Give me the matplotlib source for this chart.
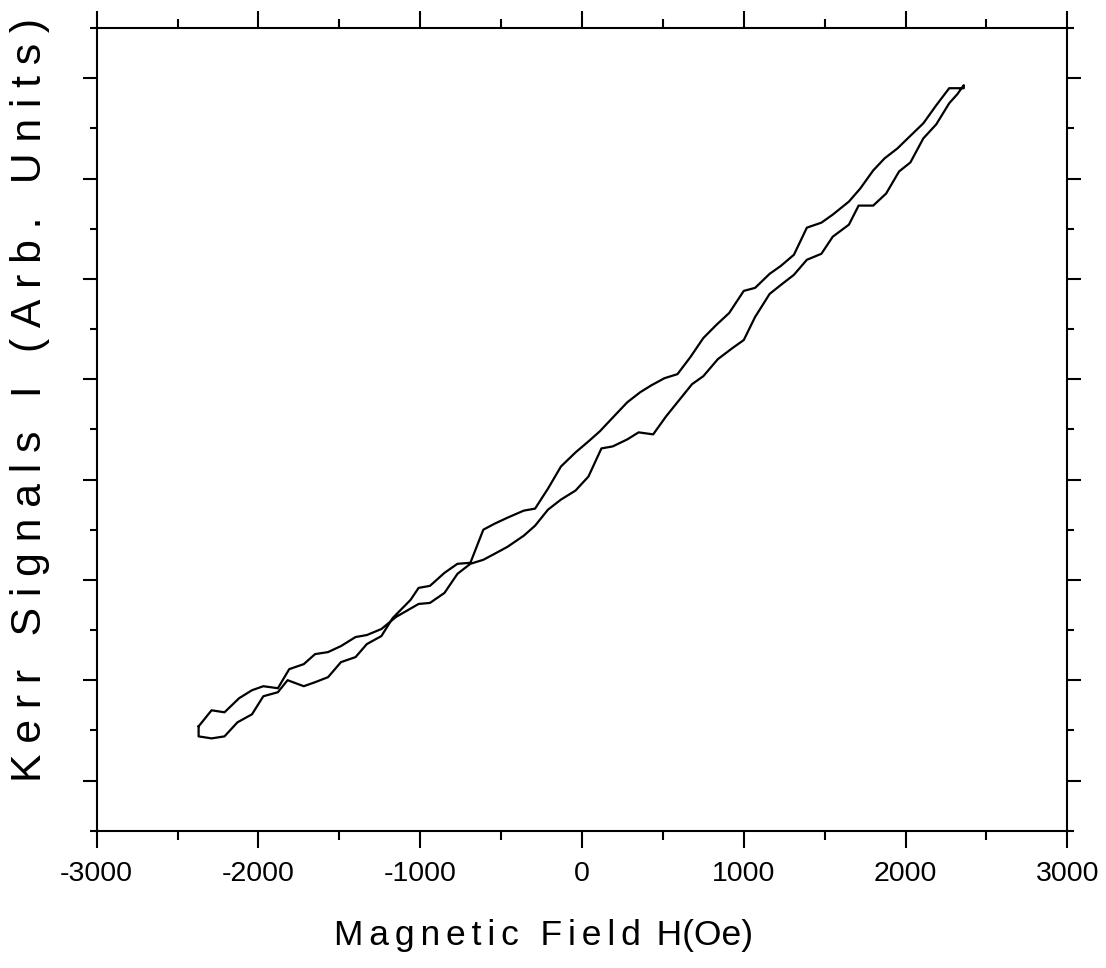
import matplotlib
matplotlib.use("Agg")
import matplotlib.pyplot as plt
from matplotlib.ticker import MultipleLocator, NullFormatter

plt.rcParams['font.family'] = ['Liberation Sans', 'DejaVu Sans']

# branch 1 (left end -> right end)
field_1 = [-2370, -2370, -2290, -2210, -2130, -2040, -1970, -1880, -1820, -1720,
           -1650, -1570, -1490, -1400, -1330, -1240, -1170, -1060, -1010, -940,
           -850, -770, -690, -610, -540, -460, -360, -290, -210, -130,
           -40, 40, 110, 180, 280, 360, 430, 510, 590, 670,
           750, 830, 910, 1000, 1070, 1160, 1230, 1310, 1390, 1480,
           1550, 1650, 1720, 1800, 1870, 1950, 2020, 2110, 2190, 2270, 2360]
kerr_1 = [1.04, 0.94, 0.92, 0.94, 1.08, 1.16, 1.34, 1.38, 1.50, 1.44,
          1.48, 1.53, 1.68, 1.73, 1.86, 1.94, 2.12, 2.30, 2.42, 2.44,
          2.57, 2.66, 2.67, 3.00, 3.06, 3.12, 3.19, 3.21, 3.41, 3.63,
          3.77, 3.88, 3.98, 4.10, 4.27, 4.37, 4.44, 4.51, 4.55, 4.72,
          4.91, 5.04, 5.16, 5.38, 5.41, 5.55, 5.63, 5.74, 6.01, 6.06,
          6.14, 6.27, 6.40, 6.58, 6.70, 6.80, 6.91, 7.05, 7.23, 7.40, 7.40]

# branch 2 (left end -> right end)
field_2 = [-2370, -2290, -2210, -2120, -2040, -1970, -1880, -1810, -1720, -1650,
           -1570, -1490, -1400, -1330, -1240, -1150, -1010, -940, -850, -770,
           -690, -610, -540, -460, -360, -290, -210, -130, -40, 40,
           120, 190, 280, 350, 440, 520, 600, 680, 750, 840,
           930, 1000, 1070, 1160, 1230, 1310, 1390, 1480, 1550, 1650,
           1710, 1800, 1880, 1960, 2030, 2110, 2190, 2270, 2320, 2360]
kerr_2 = [1.04, 1.20, 1.18, 1.32, 1.40, 1.44, 1.42, 1.61, 1.66, 1.76,
          1.78, 1.84, 1.93, 1.95, 2.01, 2.13, 2.26, 2.27, 2.37, 2.56,
          2.66, 2.70, 2.76, 2.83, 2.94, 3.04, 3.20, 3.30, 3.39, 3.53,
          3.81, 3.83, 3.90, 3.97, 3.95, 4.13, 4.29, 4.45, 4.53, 4.70,
          4.81, 4.89, 5.12, 5.35, 5.44, 5.54, 5.69, 5.75, 5.92, 6.04,
          6.23, 6.23, 6.35, 6.57, 6.66, 6.90, 7.04, 7.25, 7.34, 7.43]

x_ticks = [-3000, -2000, -1000, 0, 1000, 2000, 3000]


def spread(s, gap):
    return gap.join(s)


fig = plt.figure(figsize=(11.06, 9.68), dpi=100)
ax = fig.add_axes([96.7 / 1106, 1 - 830.7 / 968, (1067.3 - 96.7) / 1106, (830.7 - 28) / 968])

ax.plot(field_1 + field_2[::-1], kerr_1 + kerr_2[::-1], color='black', lw=1.6)

ax.set_xlim(-3000, 3000)
ax.set_ylim(0, 8)
ax.set_xticks(x_ticks)
ax.set_xticklabels([str(v) for v in x_ticks])
ax.xaxis.set_minor_locator(MultipleLocator(500))
ax.yaxis.set_major_locator(MultipleLocator(1, offset=0.5))
ax.yaxis.set_minor_locator(MultipleLocator(1))
ax.yaxis.set_major_formatter(NullFormatter())

for s in ax.spines.values():
    s.set_linewidth(1.5)

ax.tick_params(axis='x', which='both', direction='out', top=True, bottom=True,
               width=1.5, labelsize=20.5, pad=10)
ax.tick_params(axis='x', which='major', length=12)
ax.tick_params(axis='x', which='minor', length=6.5)
ax.tick_params(axis='y', which='both', direction='out', left=True, right=True, width=1.5)
ax.tick_params(axis='y', which='major', length=10)
ax.tick_params(axis='y', which='minor', length=5)

fig.text(544 / 1106, 1 - 935 / 968, spread("Magnetic Field ", "\u2006") + "H(Oe)",
         fontsize=25.5, ha='center', va='center')
fig.text(30 / 1106, 1 - 400 / 968, spread("Kerr Signals I (Arb. Units)", "\u2005"),
         fontsize=30.8, rotation=90, ha='center', va='center')

fig.savefig("out.png", dpi=100)
